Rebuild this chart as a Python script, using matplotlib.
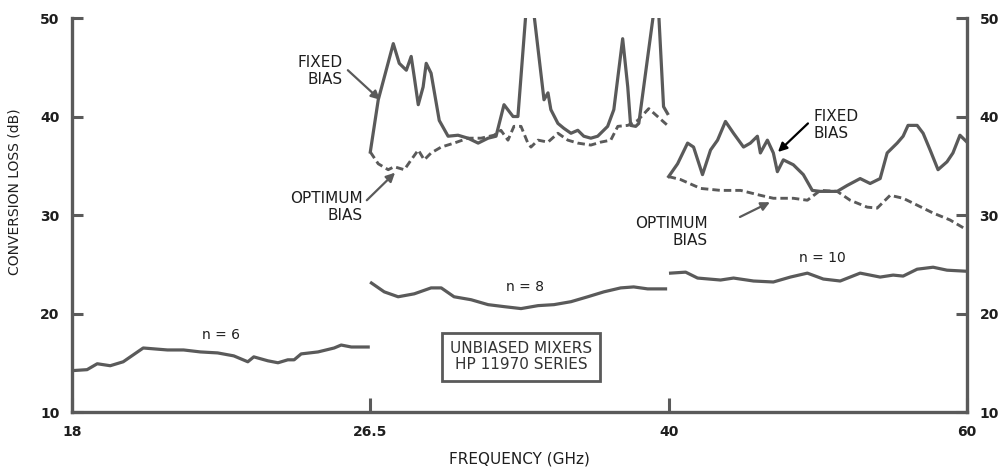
import numpy as np
import matplotlib
matplotlib.use("Agg")
import matplotlib.pyplot as plt

# band edges of the frequency axis (each band gets equal width)
band_edges = [18, 26.5, 40, 60]

# n = 6 harmonic, 18 - 26.5 GHz
f_n6 = [18.0, 18.43, 18.72, 19.09, 19.46, 20.03, 20.72, 21.18, 21.66, 22.15, 22.61,
        23.01, 23.18, 23.58, 23.87, 24.15, 24.33, 24.53, 25.01, 25.47, 25.67, 25.96, 26.44]
loss_n6 = [14.2, 14.3, 14.9, 14.7, 15.1, 16.5, 16.3, 16.3, 16.1, 16.0, 15.7,
           15.1, 15.6, 15.2, 15.0, 15.3, 15.3, 15.9, 16.1, 16.5, 16.8, 16.6, 16.6]

# n = 8 harmonic, 26.5 - 40 GHz
f_n8 = [26.55, 27.13, 27.76, 28.49, 29.25, 29.71, 30.29, 31.06, 31.83, 32.55, 33.32,
        34.09, 34.81, 35.58, 36.34, 37.07, 37.83, 38.42, 39.05, 39.86]
loss_n8 = [23.1, 22.2, 21.7, 22.0, 22.6, 22.6, 21.7, 21.4, 20.9, 20.7, 20.5,
           20.8, 20.9, 21.2, 21.7, 22.2, 22.6, 22.7, 22.5, 22.5]

# n = 10 harmonic, 40 - 60 GHz
f_n10 = [40.13, 41.14, 41.94, 43.48, 44.35, 45.69, 47.02, 48.16, 49.3, 50.37, 51.5,
         52.84, 54.18, 55.05, 55.72, 56.66, 57.73, 58.66, 59.87]
loss_n10 = [24.1, 24.2, 23.6, 23.4, 23.6, 23.3, 23.2, 23.7, 24.1, 23.5, 23.3,
            24.1, 23.7, 23.9, 23.8, 24.5, 24.7, 24.4, 24.3]

# fixed bias, 26.5 - 40 GHz (peaks run off the top of the chart)
f_fix_a = [26.5, 26.86, 27.54, 27.81, 28.13, 28.35, 28.49, 28.67, 28.89, 29.03, 29.25,
           29.62, 30.02, 30.47, 30.92, 31.38, 31.83, 32.19, 32.55, 32.96, 33.18, 33.54,
           33.90, 34.36, 34.54, 34.67, 34.99, 35.26, 35.58, 35.89, 36.16, 36.48, 36.79,
           37.24, 37.52, 37.92, 38.15, 38.28, 38.51, 38.65, 39.32, 39.55, 39.77, 39.95]
loss_fix_a = [36.4, 41.7, 47.4, 45.4, 44.7, 46.1, 44.0, 41.2, 43.0, 45.4, 44.4,
              39.6, 38.0, 38.1, 37.8, 37.3, 37.8, 38.0, 41.2, 40.0, 40.0, 50.5,
              50.5, 41.7, 42.4, 40.7, 39.3, 38.8, 38.3, 38.6, 38.0, 37.8, 38.0,
              39.0, 40.7, 47.9, 43.0, 39.1, 39.0, 39.3, 50.5, 50.5, 41.0, 40.3]

# optimum bias, 26.5 - 40 GHz
f_opt_a = [26.5, 26.86, 27.31, 27.58, 28.04, 28.35, 28.67, 28.94, 29.25, 29.71, 30.29,
           30.92, 31.51, 32.10, 32.41, 32.73, 33.00, 33.32, 33.63, 33.77, 34.09, 34.54,
           34.99, 35.44, 35.89, 36.48, 36.93, 37.38, 37.70, 38.15, 38.60, 39.10, 39.50, 39.95]
loss_opt_a = [36.4, 35.2, 34.6, 34.9, 34.6, 35.6, 36.6, 35.6, 36.3, 36.9, 37.3,
              37.8, 37.8, 38.1, 38.6, 37.6, 39.0, 39.0, 37.3, 36.9, 37.6, 37.4,
              38.3, 37.6, 37.3, 37.1, 37.4, 37.6, 39.0, 39.1, 39.6, 40.8, 40.0, 39.1]

# fixed bias, 40 - 60 GHz
f_fix_b = [40.0, 40.60, 41.27, 41.67, 42.27, 42.81, 43.28, 43.81, 44.35, 45.02, 45.48,
           45.95, 46.15, 46.62, 47.02, 47.29, 47.69, 48.36, 49.03, 49.63, 50.17, 51.30,
           51.97, 52.84, 53.51, 54.18, 54.65, 55.32, 55.72, 56.05, 56.66, 57.06, 57.53,
           58.06, 58.66, 59.06, 59.53, 60.0]
loss_fix_b = [33.9, 35.2, 37.3, 36.9, 34.1, 36.6, 37.6, 39.5, 38.3, 36.9, 37.3,
              38.0, 36.3, 37.6, 36.3, 34.4, 35.6, 35.1, 34.1, 32.5, 32.4, 32.4,
              33.0, 33.7, 33.2, 33.7, 36.3, 37.3, 38.0, 39.1, 39.1, 38.3, 36.6,
              34.6, 35.4, 36.3, 38.1, 37.4]

# optimum bias, 40 - 60 GHz
f_opt_b = [40.0, 40.80, 42.14, 43.48, 44.82, 46.15, 47.02, 48.36, 49.30, 50.17, 51.30,
           52.17, 53.31, 53.98, 54.85, 55.72, 56.66, 57.73, 58.86, 59.87]
loss_opt_b = [33.9, 33.6, 32.7, 32.5, 32.5, 32.0, 31.7, 31.7, 31.5, 32.5, 32.4,
              31.5, 30.8, 30.7, 32.0, 31.7, 31.0, 30.2, 29.5, 28.6]

LINE = "#5a5a5a"
TEXT = "#1e1e1e"
band_pos = np.arange(len(band_edges))


def fwd(f):
    return np.interp(f, band_edges, band_pos)


def inv(p):
    return np.interp(p, band_pos, band_edges)


fig = plt.figure(figsize=(10.01, 4.69), dpi=100)
ax = fig.add_axes([0.0719, 0.1215, 0.8941, 0.8401])
ax.set_xscale("function", functions=(fwd, inv))
ax.set_xlim(18, 60)
ax.set_ylim(10, 50)

lw = 2.3
for f, v in [(f_n6, loss_n6), (f_n8, loss_n8), (f_n10, loss_n10),
             (f_fix_a, loss_fix_a), (f_fix_b, loss_fix_b)]:
    ax.plot(f, v, color=LINE, lw=lw, solid_joinstyle="round")
for f, v in [(f_opt_a, loss_opt_a), (f_opt_b, loss_opt_b)]:
    ax.plot(f, v, color=LINE, lw=lw * 0.9, ls=(0, (2.6, 1.4)))

# axes styling
for s in ["left", "right", "bottom"]:
    ax.spines[s].set_color(LINE)
    ax.spines[s].set_linewidth(2.4)
ax.spines["top"].set_visible(False)
ax.set_xticks(band_edges)
ax.set_xticklabels(["18", "26.5", "40", "60"])
ax.set_yticks([10, 20, 30, 40, 50])
ax.xaxis.set_minor_locator(plt.NullLocator())
ax.tick_params(axis="y", direction="in", length=8, width=2.2, color=LINE,
               right=True, labelright=True, pad=9, labelsize=10)
ax.tick_params(axis="x", direction="in", length=10, width=2.2, color=LINE,
               pad=9, labelsize=10)
for lab in ax.get_xticklabels() + ax.get_yticklabels():
    lab.set_fontweight("bold")
    lab.set_color(TEXT)

ax.set_ylabel("CONVERSION LOSS (dB)", fontsize=10, color=TEXT)
ax.yaxis.set_label_coords(-0.056, 0.56)
ax.set_xlabel("FREQUENCY (GHz)", fontsize=11, color=TEXT, labelpad=9)

# curve labels
kw = dict(fontsize=10, color=TEXT, ha="center", va="center")
ax.text(22.25, 17.8, "n = 6", **kw)
ax.text(33.5, 22.7, "n = 8", **kw)
ax.text(50.3, 25.6, "n = 10", **kw)

lab_kw = dict(fontsize=11, color=TEXT, va="center", linespacing=1.15)
ax.text(25.72, 44.6, "FIXED\nBIAS", ha="right", multialignment="right", **lab_kw)
ax.text(26.29, 30.8, "OPTIMUM\nBIAS", ha="right", multialignment="right", **lab_kw)
ax.text(49.68, 39.1, "FIXED\nBIAS", ha="left", multialignment="left", **lab_kw)
ax.text(42.64, 28.3, "OPTIMUM\nBIAS", ha="right", multialignment="right", **lab_kw)

arrows = [((25.86, 44.7), (26.94, 41.7), LINE),
          ((26.40, 31.5), (27.62, 34.3), LINE),
          ((49.34, 39.3), (47.33, 36.4), "black"),
          ((44.78, 29.8), (46.79, 31.3), LINE)]
for tail, head, c in arrows:
    ax.annotate("", xy=head, xytext=tail,
                arrowprops=dict(arrowstyle="-|>", color=c, lw=1.6,
                                mutation_scale=13, shrinkA=0, shrinkB=0))

ax.text(33.32, 15.6, "UNBIASED MIXERS\nHP 11970 SERIES", fontsize=11, color="#333333",
        ha="center", va="center", linespacing=1.1,
        bbox=dict(boxstyle="square,pad=0.55", fc="white", ec=LINE, lw=2))

fig.savefig("out.png", dpi=100)
